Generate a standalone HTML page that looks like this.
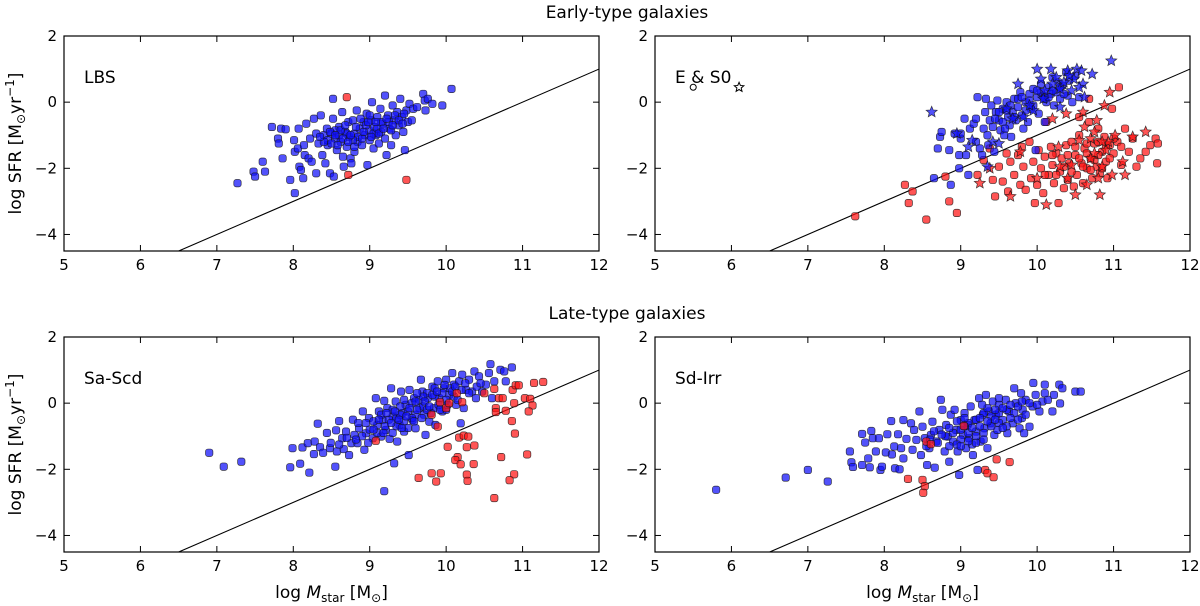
<!DOCTYPE html>
<html><head><meta charset="utf-8"><style>
html,body{margin:0;padding:0;background:#fff}
svg{display:block;font-family:"DejaVu Sans","Liberation Sans",sans-serif}
</style></head><body>
<svg id="chart" width="1200" height="606" viewBox="0 0 1200 606" xmlns="http://www.w3.org/2000/svg">
<text x="627" y="18" font-size="17" text-anchor="middle">Early-type galaxies</text>
<text x="627" y="319" font-size="17" text-anchor="middle">Late-type galaxies</text>
</svg>
<script>
const xTicks=[5,6,7,8,9,10,11,12];
const yTicks=[2,0,-2,-4];
const panelNames=["LBS","E & S0","Sa-Scd","Sd-Irr"];
const lbsBlue=[[7.27,-2.45],[7.48,-2.1],[7.5,-2.25],[7.6,-1.8],[7.63,-2.1],[7.72,-0.75],[7.8,-1.1],[7.81,-1.25],[7.84,-0.8],[7.86,-1.7],[7.9,-0.82],[7.96,-2.35],[8.01,-1.15],[8.02,-1.5],[8.02,-2.75],[8.06,-1.4],[8.07,-0.8],[8.08,-1.95],[8.1,-2.05],[8.13,-2.3],[8.14,-1.3],[8.15,-1.6],[8.17,-0.65],[8.2,-1.7],[8.22,-1.1],[8.24,-1.8],[8.27,-0.5],[8.3,-2.15],[8.3,-0.95],[8.33,-1.25],[8.36,-0.4],[8.38,-1.6],[8.4,-1.0],[8.42,-1.85],[8.44,-0.8],[8.45,-1.3],[8.48,-2.15],[8.5,-0.95],[8.52,-0.5],[8.52,0.1],[8.53,-2.25],[8.55,-1.1],[8.57,-1.45],[8.6,-0.75],[8.62,-1.2],[8.64,-0.3],[8.65,-1.65],[8.66,-1.95],[8.68,-0.9],[8.7,-1.35],[8.72,-0.6],[8.73,-1.05],[8.75,-1.7],[8.76,-1.85],[8.78,-0.55],[8.8,-1.5],[8.8,-0.95],[8.83,-0.25],[8.84,-1.2],[8.87,-0.8],[8.9,-1.3],[8.92,-0.6],[8.94,-1.0],[8.96,-0.35],[8.97,-1.9],[8.99,-0.85],[9.0,-1.15],[9.02,-0.55],[9.03,0.0],[9.05,-1.4],[9.06,-0.75],[9.08,-1.0],[9.1,-0.45],[9.12,-1.25],[9.14,-0.2],[9.15,-0.9],[9.17,-0.65],[9.2,0.2],[9.2,-1.1],[9.22,-1.6],[9.24,-0.4],[9.26,-0.8],[9.28,-1.3],[9.3,-0.1],[9.32,-0.55],[9.34,-1.0],[9.36,-0.3],[9.38,-0.7],[9.4,0.1],[9.42,-0.45],[9.44,-0.9],[9.46,-1.45],[9.48,-0.25],[9.5,-0.6],[9.52,-0.05],[9.55,-0.55],[9.57,-0.2],[9.62,-0.15],[9.7,0.25],[9.72,0.05],[9.73,-0.25],[9.76,0.1],[9.82,-0.05],[9.95,-0.1],[10.07,0.4],[8.6,-1.0],[8.7,-0.95],[8.85,-1.05],[8.95,-0.7],[9.05,-0.95],[8.55,-0.85],[8.45,-1.15],[9.15,-0.6],[9.25,-0.6],[8.78,-1.15],[8.88,-0.5],[9.1,-0.8],[8.65,-1.1],[8.5,-1.25],[8.4,-1.2],[8.48,-0.9],[8.58,-1.3],[8.62,-0.85],[8.72,-1.2],[8.82,-0.75],[8.9,-1.1],[8.98,-0.6],[9.02,-1.05],[9.08,-0.6],[9.12,-0.95],[9.18,-0.8],[9.22,-0.5],[9.28,-0.85],[9.33,-0.4],[9.38,-0.55],[9.43,-0.65],[8.35,-1.05],[8.55,-1.0],[8.75,-1.0],[8.92,-0.9],[9.0,-0.4],[9.3,-0.7],[8.68,-0.7],[8.8,-1.35],[9.45,-0.35]];
const lbsRed=[[8.7,0.15],[8.72,-2.2],[9.48,-2.35]];
const es0BlueCircle=[[8.65,-2.3],[8.7,-1.4],[8.73,-1.05],[8.75,-0.9],[8.85,-1.45],[8.87,-2.5],[8.92,-0.95],[8.98,-2.0],[8.98,-1.6],[9.0,-1.1],[9.05,-0.5],[9.07,-1.6],[9.1,-2.2],[9.12,-0.8],[9.17,-0.65],[9.2,-0.5],[9.2,-1.2],[9.22,0.15],[9.25,-1.4],[9.28,-1.6],[9.3,-0.8],[9.32,-0.3],[9.33,0.1],[9.35,-1.0],[9.36,-1.3],[9.38,-0.55],[9.4,-0.1],[9.42,-0.75],[9.44,-1.5],[9.46,-0.3],[9.48,0.05],[9.5,-0.55],[9.52,-0.85],[9.55,-0.2],[9.57,-1.0],[9.6,0.0],[9.62,-0.45],[9.64,-0.7],[9.66,-1.05],[9.68,-0.3],[9.7,0.1],[9.72,-0.55],[9.75,-0.15],[9.78,0.3],[9.8,-0.4],[9.82,-0.8],[9.85,0.0],[9.88,-0.6],[9.9,0.25],[9.92,-0.2],[9.95,0.4],[9.98,-1.45],[10.0,0.15],[10.02,-0.35],[10.05,0.55],[10.08,0.2],[10.1,-0.6],[10.12,0.0],[10.15,0.45],[10.18,0.25],[10.2,0.75],[10.22,-0.1],[10.25,0.3],[10.28,0.6],[10.3,0.1],[10.33,0.5],[10.38,0.9],[10.4,0.2],[10.42,0.65],[10.46,0.0],[10.5,0.8],[10.55,0.15],[9.0,-0.95],[9.5,-0.3],[9.55,-0.6],[9.6,-0.25],[9.65,-0.1],[9.7,-0.45],[9.75,0.1],[9.85,-0.25],[9.9,0.05],[9.95,-0.1],[10.05,0.3],[10.1,0.1],[10.2,0.35],[10.3,0.45],[10.35,0.25],[9.45,-0.5],[9.58,-0.8],[9.8,0.15],[10.0,0.35],[10.15,0.15]];
const es0BlueStar=[[8.62,-0.3],[8.95,-0.95],[9.1,-1.35],[9.15,-1.15],[9.35,-1.95],[9.42,-1.2],[9.5,-1.25],[9.6,-0.2],[9.75,0.55],[9.82,-0.45],[10.0,1.0],[10.05,0.7],[10.18,1.0],[10.25,0.75],[10.3,0.4],[10.4,0.95],[10.48,0.7],[10.52,1.0],[10.58,0.95],[10.6,0.55],[10.62,0.15],[10.72,0.85],[10.97,1.25],[10.3,-0.15],[9.95,-0.25],[10.45,0.35],[10.1,0.35],[9.68,-0.5],[10.35,0.6],[10.55,0.45],[10.2,0.55],[10.42,0.8],[9.9,-0.1],[10.08,0.1]];
const es0RedCircle=[[7.62,-3.45],[8.27,-2.5],[8.32,-3.05],[8.37,-2.7],[8.8,-2.25],[8.85,-3.0],[8.95,-3.35],[8.55,-3.55],[9.22,-2.2],[9.3,-1.75],[9.38,-1.4],[9.42,-2.35],[9.45,-2.85],[9.5,-1.95],[9.55,-2.4],[9.6,-1.55],[9.62,-2.7],[9.65,-1.8],[9.7,-2.2],[9.75,-1.6],[9.78,-2.5],[9.8,-1.35],[9.82,-1.95],[9.85,-2.65],[9.9,-1.2],[9.92,-2.3],[9.95,-1.8],[9.97,-3.05],[10.0,-2.5],[10.02,-1.45],[10.05,-2.0],[10.08,-2.75],[10.1,-1.65],[10.12,-0.6],[10.15,-2.2],[10.18,-1.35],[10.2,-1.9],[10.22,-2.45],[10.25,-1.55],[10.28,-3.05],[10.3,-2.1],[10.32,-1.7],[10.35,-2.6],[10.38,-1.3],[10.4,-2.35],[10.42,-1.85],[10.45,-1.2],[10.48,-2.55],[10.5,-1.6],[10.52,-2.2],[10.55,-1.0],[10.58,-1.85],[10.6,-2.45],[10.62,-1.4],[10.65,-2.0],[10.68,-0.6],[10.7,-1.7],[10.72,-2.3],[10.75,-1.25],[10.78,-1.95],[10.8,-0.8],[10.82,-2.15],[10.85,-1.5],[10.88,-1.05],[10.9,-1.8],[10.92,-2.3],[10.95,-1.3],[10.98,-0.2],[11.0,-1.55],[11.05,-1.2],[11.07,0.45],[11.1,-1.9],[11.15,-0.8],[11.2,-1.5],[11.25,-1.1],[11.3,-1.95],[11.35,-1.7],[11.42,-1.5],[11.55,-1.1],[11.58,-1.25],[11.57,-1.85],[11.48,-1.3],[10.68,0.1],[10.55,-0.45],[10.35,-1.95],[10.45,-2.1],[10.55,-1.7],[10.6,-1.95],[10.65,-1.55],[10.7,-2.05],[10.75,-1.75],[10.8,-1.6],[10.85,-2.0],[10.9,-1.3],[10.95,-1.7],[11.0,-1.1],[10.4,-1.6],[10.25,-2.2],[10.5,-1.35],[10.65,-1.25],[10.8,-1.2],[11.1,-1.35],[10.2,-1.6],[10.1,-2.2]];
const es0RedStar=[[9.25,-2.45],[9.38,-2.0],[9.65,-2.85],[9.78,-1.5],[10.0,-2.3],[10.12,-3.1],[10.2,-0.5],[10.28,-1.35],[10.38,-0.35],[10.45,-1.9],[10.5,-2.8],[10.55,-1.15],[10.6,-0.3],[10.65,-2.5],[10.7,-1.1],[10.75,-1.55],[10.78,-0.55],[10.82,-2.8],[10.85,-1.95],[10.88,-0.1],[10.93,-1.2],[10.95,0.3],[10.98,-2.2],[11.02,-1.0],[11.12,-1.8],[11.15,-2.2],[11.25,-1.05],[11.42,-0.9],[10.9,-1.45],[10.62,-0.75],[10.7,-1.7],[10.8,-2.3],[10.85,-1.2],[10.4,-2.3],[10.3,-1.95],[10.75,-0.9]];
const saBlue=[[6.9,-1.5],[7.09,-1.92],[7.32,-1.77],[7.96,-1.94],[7.99,-1.36],[8.09,-1.83],[8.21,-2.1],[8.12,-1.34],[8.19,-1.21],[8.28,-1.16],[8.27,-1.54],[8.32,-0.62],[8.35,-1.33],[8.39,-1.5],[8.44,-0.9],[8.48,-1.36],[8.49,-1.2],[8.55,-1.92],[8.56,-0.82],[8.57,-1.46],[8.6,-0.54],[8.64,-1.06],[8.66,-1.39],[8.69,-0.86],[8.73,-1.57],[8.76,-1.21],[8.78,-0.5],[8.8,-0.96],[8.84,-1.21],[8.86,-0.76],[8.91,-0.25],[8.93,-1.41],[8.95,-0.91],[8.99,-0.45],[9.04,-1.06],[9.08,0.15],[9.1,-0.66],[9.12,-0.25],[9.15,-1.01],[9.17,-0.51],[9.19,0.07],[9.21,-0.81],[9.23,-0.15],[9.26,-1.08],[9.28,0.45],[9.3,-0.4],[9.32,-1.82],[9.34,0.05],[9.36,-1.16],[9.39,-0.66],[9.41,0.35],[9.43,-0.3],[9.45,-0.86],[9.47,-0.05],[9.51,-1.57],[9.52,0.4],[9.56,-0.51],[9.58,0.15],[9.6,-0.76],[9.65,-0.15],[9.67,0.71],[9.69,0.35],[9.71,-0.35],[9.73,-0.96],[9.76,0.15],[9.78,-0.56],[9.82,0.5],[9.84,-0.15],[9.86,-0.66],[9.89,0.66],[9.91,0.15],[9.95,-0.25],[9.97,0.45],[10.0,0.71],[10.04,0.25],[10.08,0.91],[10.1,0.56],[10.13,-0.05],[10.17,0.66],[10.19,-0.61],[10.21,0.86],[10.23,-0.15],[10.26,0.4],[10.3,0.71],[10.34,0.35],[10.37,0.96],[10.39,0.15],[10.43,0.81],[10.47,0.35],[10.52,0.56],[10.56,0.91],[10.58,1.18],[10.6,0.15],[10.63,0.66],[10.71,1.01],[10.76,0.96],[10.78,0.66],[10.86,1.08],[9.19,-2.66],[9.25,-0.5],[9.3,-0.2],[9.35,-0.45],[9.4,-0.1],[9.45,-0.55],[9.5,-0.25],[9.55,0.0],[9.6,-0.35],[9.65,0.1],[9.7,-0.1],[9.75,0.3],[9.8,-0.3],[9.85,0.2],[9.9,-0.05],[9.95,0.3],[10.0,0.1],[10.05,0.45],[10.1,0.2],[9.2,-0.7],[9.15,-0.35],[9.05,-0.55],[9.0,-0.8],[8.95,-0.6],[9.4,-0.35],[9.6,0.05],[9.7,0.2],[9.35,-0.7],[9.55,-0.45],[9.75,-0.2],[9.45,0.1],[10.2,0.4],[10.3,0.3],[9.85,0.45],[9.5,-0.75],[9.1,-0.9],[8.9,-1.0],[8.85,-0.6],[9.3,-0.9],[10.0,-0.2],[10.15,0.1],[9.22,-0.3],[9.28,-0.6],[9.33,-0.25],[9.38,-0.5],[9.42,-0.75],[9.48,-0.4],[9.52,-0.15],[9.58,-0.55],[9.62,-0.2],[9.68,-0.45],[9.72,0.05],[9.78,-0.1],[9.82,0.25],[9.88,0.35],[9.92,-0.2],[9.98,0.55],[10.02,-0.05],[10.08,0.35],[10.12,0.5],[10.25,0.6],[9.05,-0.8],[9.12,-0.5],[9.18,-0.9],[8.98,-1.2],[8.82,-1.1],[8.7,-1.05],[8.6,-1.25],[10.4,0.5],[10.45,0.6],[9.62,0.3]];
const saRed=[[9.08,-1.14],[9.81,-0.35],[9.89,-0.71],[9.92,0.03],[10.0,-0.15],[10.04,0.0],[10.14,0.3],[10.21,0.03],[10.5,0.3],[10.63,0.43],[10.65,-0.15],[10.65,-0.27],[10.69,0.15],[10.74,0.15],[10.78,-0.23],[10.87,0.4],[10.91,0.54],[10.95,0.54],[10.89,0.0],[11.03,0.15],[11.1,0.13],[11.13,-0.07],[11.08,-0.25],[11.15,0.61],[11.27,0.64],[10.86,-0.54],[10.9,-0.92],[10.02,-1.32],[10.17,-1.04],[10.23,-0.98],[10.29,-1.01],[10.27,-1.33],[10.37,-1.28],[10.15,-1.63],[10.12,-1.72],[10.19,-1.85],[10.36,-1.84],[10.72,-1.63],[11.06,-1.55],[9.64,-2.26],[9.81,-2.12],[9.87,-2.37],[9.93,-2.12],[10.27,-2.16],[10.28,-2.35],[10.89,-2.15],[10.83,-2.33],[10.63,-2.87]];
const sdBlue=[[5.8,-2.62],[6.71,-2.25],[7.0,-2.02],[7.26,-2.37],[7.55,-1.46],[7.57,-1.79],[7.59,-1.93],[7.71,-0.93],[7.71,-1.87],[7.75,-1.19],[7.79,-1.67],[7.83,-0.84],[7.81,-1.94],[7.85,-1.06],[7.89,-1.46],[7.93,-1.06],[7.95,-2.02],[7.97,-1.92],[8.02,-1.49],[8.04,-0.94],[8.09,-0.54],[8.1,-1.55],[8.13,-1.31],[8.14,-1.97],[8.18,-0.94],[8.2,-2.0],[8.22,-1.36],[8.25,-1.67],[8.25,-0.51],[8.29,-1.08],[8.35,-0.61],[8.37,-1.41],[8.39,-0.81],[8.42,-1.11],[8.46,-0.25],[8.48,-1.57],[8.5,-0.71],[8.53,-1.06],[8.56,-1.87],[8.59,-1.36],[8.61,-0.96],[8.63,-0.56],[8.66,-1.95],[8.68,-1.16],[8.72,-0.81],[8.74,0.1],[8.76,-0.2],[8.79,-1.46],[8.81,-0.66],[8.83,-1.01],[8.85,-1.77],[8.87,-0.35],[8.9,-1.16],[8.92,-0.2],[8.94,-0.81],[8.96,-1.46],[8.98,-2.17],[9.0,-0.51],[9.03,-0.96],[9.05,-0.3],[9.07,-1.36],[9.09,-0.66],[9.11,-1.06],[9.13,-0.1],[9.16,-1.57],[9.18,-0.51],[9.2,-0.86],[9.22,-2.02],[9.24,0.15],[9.26,-1.16],[9.29,-0.35],[9.31,-0.76],[9.33,0.25],[9.35,-1.36],[9.37,-0.25],[9.39,-0.61],[9.42,0.05],[9.44,-0.96],[9.46,-0.35],[9.48,-0.81],[9.5,-0.05],[9.55,-0.51],[9.59,0.1],[9.61,-0.91],[9.63,-0.25],[9.68,-0.61],[9.7,0.45],[9.72,0.0],[9.77,-0.76],[9.79,0.3],[9.81,-0.2],[9.83,-0.91],[9.85,0.1],[9.9,-0.71],[9.94,-0.1],[9.95,0.61],[9.98,0.25],[10.03,-0.25],[10.07,0.05],[10.1,0.56],[10.14,0.1],[10.2,-0.25],[10.22,0.25],[10.29,0.56],[10.3,-0.01],[10.33,0.45],[10.5,0.35],[10.57,0.35],[9.0,-0.8],[9.1,-0.6],[9.2,-0.5],[9.3,-0.3],[9.4,-0.4],[9.5,-0.3],[9.6,-0.2],[9.7,-0.3],[9.2,-1.0],[9.3,-0.9],[9.4,-0.7],[9.5,-0.6],[9.0,-1.1],[8.9,-0.9],[8.8,-1.0],[8.7,-1.2],[8.6,-1.1],[9.1,-0.9],[9.35,-0.15],[9.45,-0.5],[9.55,-0.15],[9.65,-0.45],[9.75,-0.1],[9.8,-0.45],[8.95,-1.25],[9.15,-1.25],[9.25,-0.7],[9.05,-0.7],[8.85,-1.3],[9.6,-0.7],[8.95,-0.55],[9.05,-0.45],[9.15,-0.75],[9.25,-0.45],[9.35,-0.55],[9.45,-0.2],[9.55,-0.75],[9.65,-0.05],[9.75,-0.5],[9.85,-0.35],[9.9,0.0],[10.0,-0.05],[8.75,-0.95],[8.85,-0.75],[9.0,-1.3],[9.1,-1.15],[9.2,-1.2],[9.3,-1.1],[8.65,-0.85],[8.55,-1.3],[9.28,-0.05],[9.5,0.15],[10.1,0.3],[9.8,0.05]];
const sdRed=[[8.31,-2.29],[8.5,-2.32],[8.53,-2.51],[8.51,-2.71],[8.55,-1.16],[8.61,-1.24],[9.04,-0.69],[9.32,-2.02],[9.35,-2.12],[9.43,-2.24],[9.47,-1.7],[9.64,-1.78]];
const refLine=[[6.5,-4.5],[12,1]];

const NS="http://www.w3.org/2000/svg";
const svg=document.getElementById('chart');
const X0=5,X1=12,Y0=-4.5,Y1=2;
const panels=[
 {l:64,t:36,w:535,h:215,name:panelNames[0],key:"lbs",ylab:true,xlab:false},
 {l:655,t:36,w:535,h:215,name:panelNames[1],key:"es0",ylab:false,xlab:false},
 {l:64,t:337,w:535,h:215,name:panelNames[2],key:"sa",ylab:true,xlab:true},
 {l:655,t:337,w:535,h:215,name:panelNames[3],key:"sd",ylab:false,xlab:true}];
function mk(tag,attrs,parent){const e=document.createElementNS(NS,tag);for(const k in attrs)e.setAttribute(k,attrs[k]);(parent||svg).appendChild(e);return e;}
function sx(p,v){return p.l+(v-X0)/(X1-X0)*p.w;}
function sy(p,v){return p.t+(Y1-v)/(Y1-Y0)*p.h;}
const BLUE="rgba(15,15,250,0.72)",RED="rgba(255,20,20,0.72)";
function dots(p,g,arr,fill,name){arr.forEach(d=>{const c=mk('rect',{x:sx(p,d[0])-3.7,y:sy(p,d[1])-3.7,width:7.4,height:7.4,rx:2.4,fill:fill,stroke:"rgba(20,20,20,0.8)","stroke-width":0.7},g);

});}
function starPath(cx,cy,r){let s="";for(let i=0;i<10;i++){const rr=i%2?r*0.45:r;const a=-Math.PI/2+i*Math.PI/5;s+=(i?"L":"M")+(cx+rr*Math.cos(a)).toFixed(2)+","+(cy+rr*Math.sin(a)).toFixed(2);}return s+"Z";}
function stars(p,g,arr,fill,name){arr.forEach(d=>{const c=mk('path',{d:starPath(sx(p,d[0]),sy(p,d[1]),5.8),fill:fill,stroke:"rgba(20,20,20,0.8)","stroke-width":0.7},g);

});}
panels.forEach((p,i)=>{
 const g=mk('g',{});
 
 
 const cid='clip'+i;const cp=mk('clipPath',{id:cid},g);mk('rect',{x:p.l,y:p.t,width:p.w,height:p.h},cp);
 const inner=mk('g',{'clip-path':'url(#'+cid+')'},g);
 const ln=mk('line',{x1:sx(p,refLine[0][0]),y1:sy(p,refLine[0][1]),x2:sx(p,refLine[1][0]),y2:sy(p,refLine[1][1]),stroke:"#000","stroke-width":1.1},inner);
 
 
 if(p.key==="lbs"){dots(p,inner,lbsBlue,BLUE,'lbs-blue-point');dots(p,inner,lbsRed,RED,'lbs-red-point');}
 if(p.key==="es0"){dots(p,inner,es0RedCircle,RED,'es0-red-circle');dots(p,inner,es0BlueCircle,BLUE,'es0-blue-circle');stars(p,inner,es0RedStar,RED,'es0-red-star');stars(p,inner,es0BlueStar,BLUE,'es0-blue-star');
  const lc=mk('circle',{cx:sx(p,5.5),cy:sy(p,0.45),r:3,fill:"none",stroke:"#000","stroke-width":1},g);
  
  
  const ls=mk('path',{d:starPath(sx(p,6.1),sy(p,0.45),5),fill:"none",stroke:"#000","stroke-width":1},g);
  
  }
 if(p.key==="sa"){dots(p,inner,saBlue,BLUE,'sa-blue-point');dots(p,inner,saRed,RED,'sa-red-point');}
 if(p.key==="sd"){dots(p,inner,sdBlue,BLUE,'sd-blue-point');dots(p,inner,sdRed,RED,'sd-red-point');}
 const fr=mk('rect',{x:p.l,y:p.t,width:p.w,height:p.h,fill:"none",stroke:"#000","stroke-width":1.2},g);
 
 
 xTicks.forEach(v=>{const x=sx(p,v);
  mk('line',{x1:x,y1:p.t+p.h,x2:x,y2:p.t+p.h-6,stroke:"#000","stroke-width":1},g);
  mk('line',{x1:x,y1:p.t,x2:x,y2:p.t+6,stroke:"#000","stroke-width":1},g);
  const t=mk('text',{x:x,y:p.t+p.h+19,"font-size":15,"text-anchor":"middle"},g);t.textContent=String(v);
  
  });
 yTicks.forEach(v=>{const y=sy(p,v);
  mk('line',{x1:p.l,y1:y,x2:p.l+6,y2:y,stroke:"#000","stroke-width":1},g);
  mk('line',{x1:p.l+p.w,y1:y,x2:p.l+p.w-6,y2:y,stroke:"#000","stroke-width":1},g);
  const t=mk('text',{x:p.l-7,y:y+5,"font-size":15,"text-anchor":"end"},g);t.textContent=(v<0?"\u2212"+(-v):String(v));
  
  });
 const nm=mk('text',{x:p.l+20,y:p.t+47,"font-size":17},g);nm.textContent=p.name;
 
 
 if(p.ylab){const t=mk('text',{transform:"translate(21,"+(p.t+p.h/2)+") rotate(-90)","font-size":17,"text-anchor":"middle"},g);
  t.innerHTML='log SFR [M<tspan font-size="12" dy="4">\u2299</tspan><tspan dy="-4">yr</tspan><tspan font-size="12" dy="-7">\u22121</tspan><tspan dy="7">]</tspan>';
  
  }
 if(p.xlab){const t=mk('text',{x:p.l+p.w/2,y:598,"font-size":17,"text-anchor":"middle"},g);
  t.innerHTML='log <tspan font-style="italic">M</tspan><tspan font-size="12" dy="4">star</tspan><tspan dy="-4"> [M</tspan><tspan font-size="12" dy="4">\u2299</tspan><tspan dy="-4">]</tspan>';
  
  }
});
</script>
</body></html>
